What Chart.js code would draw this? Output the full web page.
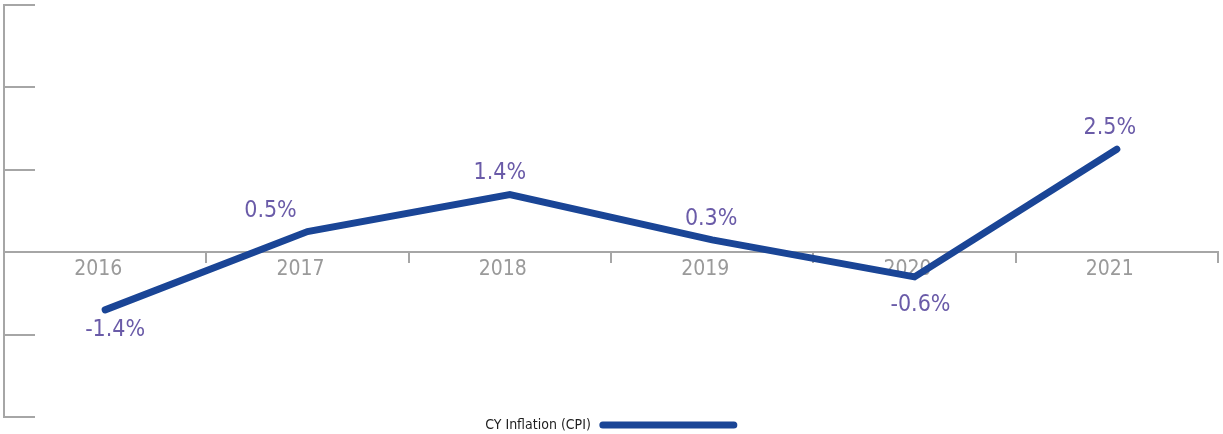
<!DOCTYPE html>
<html>
<head>
<meta charset="utf-8">
<script src="https://cdn.jsdelivr.net/npm/chart.js@4"></script>
<style>
  html, body { margin: 0; padding: 0; background: #fff; }
  #wrap { width: 1223px; height: 434px; position: relative; }
</style>
</head>
<body>
<div id="wrap"><canvas id="cpiChart"></canvas></div>
<script>
// dados do gráfico
const years = ['2016', '2017', '2018', '2019', '2020', '2021'];
const inflation = [-1.4, 0.5, 1.4, 0.3, -0.6, 2.5];
const seriesLabel = 'CY Inflation (CPI)';

// ajuste fino dos rótulos (estilo, não dados)
const labelNudge = [[10, 0], [-37, 0], [-10, 0], [-1, 0], [6, 8], [-7, 0]];

const FONT = '"DejaVu Sans Condensed", "Liberation Sans Narrow", sans-serif';
const LINE_COLOR = '#1a4596';
const LABEL_COLOR = '#6a5ba8';
const AXIS_GRAY = '#a6a6a6';

// rótulos de valor acima/abaixo de cada ponto
const valueLabels = {
    id: 'valueLabels',
    afterDatasetsDraw(chart) {
        const ctx = chart.ctx;
        const meta = chart.getDatasetMeta(0);
        ctx.save();
        ctx.font = '23px ' + FONT;
        ctx.fillStyle = LABEL_COLOR;
        ctx.textAlign = 'center';
        ctx.textBaseline = 'middle';
        meta.data.forEach((pt, i) => {
            const v = inflation[i];
            const dy = v < 0 ? 20 : -21;
            const [nx, ny] = labelNudge[i];
            ctx.fillText(v.toFixed(1) + '%', pt.x + nx, pt.y + dy + ny);
        });
        ctx.restore();
    }
};

// legenda: texto primeiro, depois a linha
const textFirstLegend = {
    id: 'textFirstLegend',
    afterDraw(chart) {
        const ctx = chart.ctx;
        const ds = chart.data.datasets[0];
        ctx.save();
        ctx.font = '14px ' + FONT;
        const tw = ctx.measureText(ds.label).width;
        const lineW = 137, gap = 9;
        const total = tw + gap + lineW;
        const x0 = 611 - total / 2;
        const y = 425;
        ctx.fillStyle = '#1e1e1e';
        ctx.textBaseline = 'middle';
        ctx.fillText(ds.label, x0, y);
        ctx.strokeStyle = ds.borderColor;
        ctx.lineWidth = 7;
        ctx.lineCap = 'round';
        ctx.beginPath();
        ctx.moveTo(x0 + tw + gap + 3, y);
        ctx.lineTo(x0 + total - 3, y);
        ctx.stroke();
        ctx.restore();
    }
};

const chart = new Chart(document.getElementById('cpiChart'), {
    type: 'line',
    data: {
        labels: years,
        datasets: [{
            label: seriesLabel,
            data: inflation,
            borderColor: LINE_COLOR,
            borderWidth: 7,
            borderCapStyle: 'round',
            borderJoinStyle: 'miter',
            pointRadius: 0,
            tension: 0,
            fill: false
        }]
    },
    options: {
        responsive: true,
        maintainAspectRatio: false,
        animation: false,
        layout: { padding: { left: 4, right: 5, top: 5, bottom: 17 } },
        plugins: {
            legend: { display: false },
            tooltip: { enabled: false }
        },
        scales: {
            x: {
                position: { y: 0 },
                offset: true,
                grid: {
                    offset: true,
                    drawOnChartArea: false,
                    drawTicks: true,
                    tickLength: 10,
                    color: AXIS_GRAY,
                    lineWidth: 2
                },
                border: { display: true, color: AXIS_GRAY, width: 2 },
                ticks: {
                    color: '#9a9a9a',
                    padding: -5,
                    labelOffset: -7,
                    font: { family: FONT, size: 21 }
                }
            },
            y: {
                min: -4,
                max: 6,
                afterFit(scale) { scale.width = 0; },
                ticks: { display: false, stepSize: 2 },
                grid: {
                    drawOnChartArea: false,
                    drawTicks: true,
                    tickLength: -31,
                    color: AXIS_GRAY,
                    lineWidth: 2
                },
                border: { display: true, color: AXIS_GRAY, width: 2 }
            }
        }
    },
    plugins: [valueLabels, textFirstLegend]
});
</script>
</body>
</html>
